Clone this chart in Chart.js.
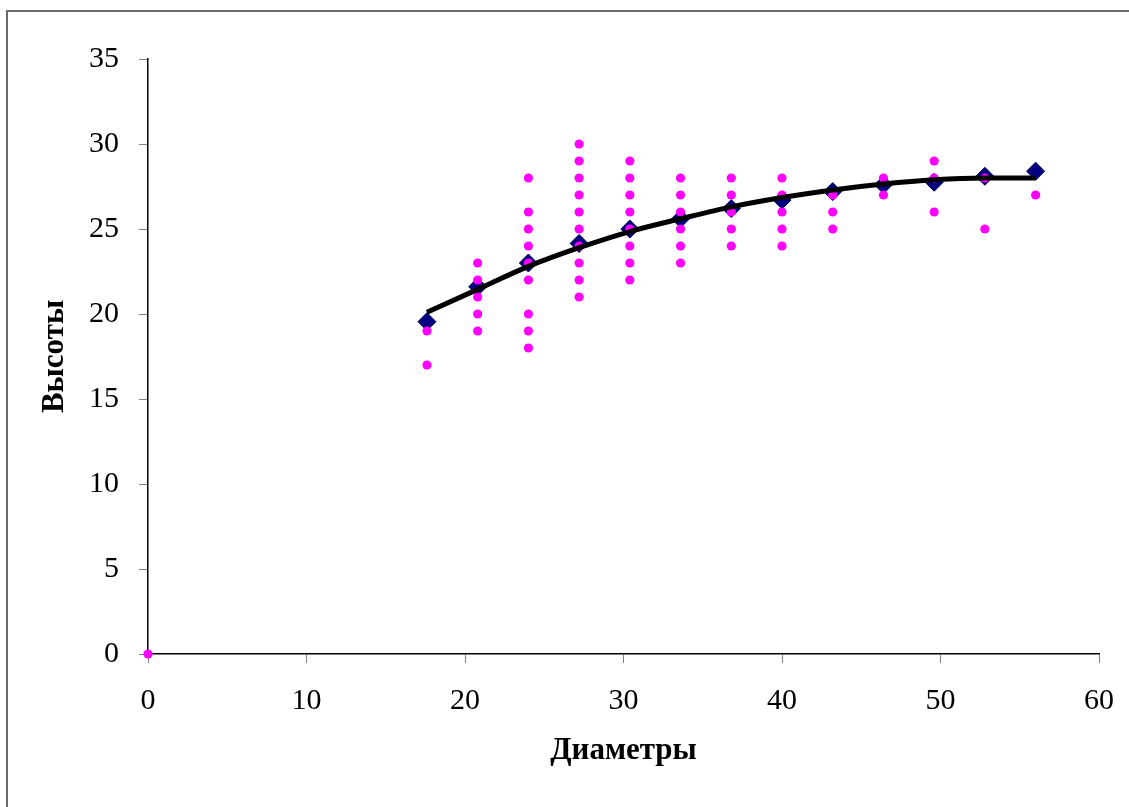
<!DOCTYPE html>
<html>
<head>
<meta charset="utf-8">
<script src="https://cdn.jsdelivr.net/npm/chart.js@4/dist/chart.umd.min.js"></script>
<style>
  body { margin: 0; background: #fff; }
  #wrap { position: relative; width: 1129px; height: 807px; }
  #frame {
    position: absolute; left: 6px; top: 10px; width: 1130px; height: 800px;
    border-left: 2px solid #6a6a6a; border-top: 2px solid #6a6a6a;
    pointer-events: none;
  }
</style>
</head>
<body>
<div id="wrap">
  <canvas id="chart" width="1129" height="807"></canvas>
  <div id="frame"></div>
</div>
<script>
// diameter classes (x)
const diameters = [17.6, 20.8, 24, 27.2, 30.4, 33.6, 36.8, 40, 43.2, 46.4, 49.6, 52.8, 56];

// measured heights in each diameter class
const heights = [
  [19, 17],
  [23, 22, 21, 20, 19],
  [28, 26, 25, 24, 23, 22, 20, 19, 18],
  [30, 29, 28, 27, 26, 25, 24, 23, 22, 21],
  [29, 28, 27, 26, 25, 24, 23, 22],
  [28, 27, 26, 25, 24, 23],
  [28, 27, 26, 25, 24],
  [28, 27, 26, 25, 24],
  [27, 26, 25],
  [28, 27],
  [29, 28, 26],
  [28, 25],
  [27]
];

// stray point at origin
const originPoint = [0, 0];

// mean heights per class (blue diamonds)
const meanHeights = [19.55, 21.6, 23.0, 24.15, 25.0, 25.6, 26.2, 26.7, 27.2, 27.6, 27.75, 28.1, 28.4];

// trend line
const trendHeights = [20.1, 21.45, 22.8, 23.9, 24.85, 25.6, 26.3, 26.85, 27.3, 27.65, 27.9, 28.0, 28.0];

const xTicks = [0, 10, 20, 30, 40, 50, 60];
const yTicks = [0, 5, 10, 15, 20, 25, 30, 35];

const observed = [{ x: originPoint[0], y: originPoint[1] }];
diameters.forEach((d, i) => {
  heights[i].forEach(h => observed.push({ x: d, y: h }));
});
const means = diameters.map((d, i) => ({ x: d, y: meanHeights[i] }));
const trend = diameters.map((d, i) => ({ x: d, y: trendHeights[i] }));

const tickFont = { family: "'Liberation Serif', 'Times New Roman', serif", size: 30 };
const titleFont = { family: "'Liberation Serif', 'Times New Roman', serif", size: 31, weight: 'bold' };

new Chart(document.getElementById("chart").getContext("2d"), {
  type: 'scatter',
  data: {
    datasets: [
      {
        label: 'trend',
        type: 'line',
        data: trend,
        borderColor: '#000',
        borderWidth: 5,
        pointRadius: 0,
        fill: false,
        cubicInterpolationMode: 'monotone',
        order: 0
      },
      {
        label: 'observed',
        data: observed,
        backgroundColor: '#ff00ff',
        borderWidth: 0,
        pointRadius: 4.6,
        clip: false,
        order: 1
      },
      {
        label: 'means',
        data: means,
        pointStyle: 'rectRot',
        backgroundColor: '#000080',
        borderColor: '#00004d',
        borderWidth: 1,
        pointRadius: 9,
        order: 2
      }
    ]
  },
  options: {
    responsive: false,
    animation: false,
    layout: { padding: { left: 0, top: 59, right: 30, bottom: 0 } },
    plugins: { legend: { display: false }, tooltip: { enabled: false } },
    scales: {
      x: {
        type: 'linear',
        min: 0,
        max: 60,
        afterBuildTicks: s => { s.ticks = xTicks.map(v => ({ value: v })); },
        afterFit: s => { s.height = 153; s.paddingLeft = 0; s.paddingRight = 0; },
        ticks: { color: '#000', font: tickFont, padding: 20, maxRotation: 0 },
        grid: { drawOnChartArea: false, tickColor: '#808080', tickLength: 9 },
        border: { color: '#000', width: 1.5 },
        title: { display: true, text: 'Диаметры', color: '#000', font: titleFont, padding: { top: 0, bottom: 37 } }
      },
      y: {
        type: 'linear',
        min: 0,
        max: 35,
        afterBuildTicks: s => { s.ticks = yTicks.map(v => ({ value: v })); },
        afterFit: s => { s.width = 148; s.paddingTop = 0; s.paddingBottom = 0; },
        ticks: { color: '#000', font: tickFont, padding: 20 },
        grid: { drawOnChartArea: false, tickColor: '#808080', tickLength: 9 },
        border: { color: '#000', width: 1.5 },
        title: { display: true, text: 'Высоты', color: '#000', font: titleFont, padding: { top: 36, bottom: 0 } }
      }
    }
  }
});
</script>
</body>
</html>
